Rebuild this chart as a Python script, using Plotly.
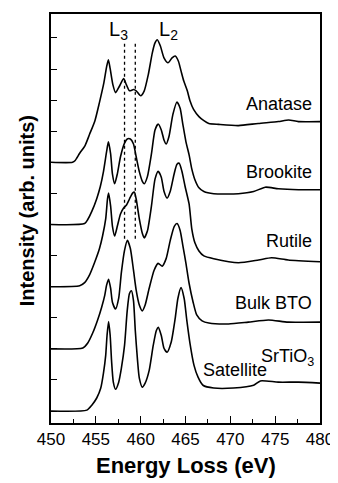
import plotly.graph_objects as go

# ---- data (energy in eV, intensity in arb. units relative to each spectrum's baseline) ----
anatase_E = [450.0, 452.4, 452.7, 453.2, 453.8, 454.3, 454.9, 455.4, 455.9, 456.2, 456.4, 456.6, 456.9,
             457.2, 457.6, 458.1, 458.4, 458.75, 459.2, 459.5, 460.0, 460.4, 460.85, 461.3, 461.6, 461.85,
             462.2, 462.6, 463.05, 463.5, 463.85, 464.2, 464.5, 464.8, 465.2, 465.5, 465.9, 466.5, 467.05,
             467.6, 468.7, 470.9, 473.1, 475.35, 476.5, 477.6, 480.0]
anatase_I = [0.0, 0.0, 0.06, 0.29, 0.54, 0.90, 1.34, 1.92, 2.56, 3.07, 3.30, 3.01, 2.50, 2.24, 2.43, 2.69,
             2.50, 2.30, 2.34, 2.30, 2.14, 2.30, 2.82, 3.52, 3.84, 3.94, 3.74, 3.36, 3.20, 3.36, 3.42, 3.26,
             2.94, 2.62, 2.30, 1.98, 1.70, 1.47, 1.34, 1.25, 1.22, 1.18, 1.25, 1.31, 1.36, 1.31, 1.31]

brookite_E = [450.0, 453.75, 454.1, 454.55, 455.1, 455.5, 455.85, 456.2, 456.4, 456.65, 456.85, 457.1, 457.4,
              457.75, 458.2, 458.5, 458.85, 459.2, 459.5, 459.85, 460.2, 460.4, 460.75, 461.2, 461.6, 461.95,
              462.3, 462.6, 462.85, 463.15, 463.6, 464.05, 464.4, 464.7, 465.05, 465.4, 465.7, 466.05, 466.5,
              467.05, 468.15, 470.9, 472.6, 473.9, 475.35, 477.6, 480.0]
brookite_I = [0.0, 0.03, 0.16, 0.42, 0.83, 1.22, 1.70, 2.34, 2.66, 2.27, 1.63, 1.31, 1.63, 2.18, 2.62, 2.75,
              2.75, 2.59, 2.18, 1.70, 1.38, 1.31, 1.54, 2.27, 3.04, 3.23, 3.04, 2.72, 2.59, 2.82, 3.55, 3.94,
              3.74, 3.23, 2.66, 2.24, 1.79, 1.44, 1.18, 1.06, 0.99, 0.99, 1.06, 1.20, 1.15, 1.12, 1.12]

rutile_E = [450.0, 453.2, 453.75, 454.3, 454.85, 455.4, 455.75, 456.1, 456.3, 456.42, 456.65, 456.85, 457.1,
            457.4, 457.75, 458.1, 458.4, 458.75, 459.1, 459.3, 459.5, 459.85, 460.2, 460.4, 460.75, 461.2,
            461.6, 461.95, 462.3, 462.6, 462.95, 463.3, 463.75, 464.05, 464.3, 464.6, 464.95, 465.4, 465.7,
            466.05, 466.5, 467.05, 468.15, 470.9, 473.15, 474.6, 476.45, 480.0]
rutile_I = [0.0, 0.03, 0.13, 0.38, 0.77, 1.22, 1.63, 2.18, 2.82, 3.01, 2.59, 1.95, 1.63, 1.95, 2.34, 2.53,
            2.62, 2.82, 3.01, 3.04, 2.82, 2.18, 1.70, 1.57, 1.79, 2.59, 3.46, 3.71, 3.52, 3.07, 2.85, 3.07,
            3.65, 3.94, 3.97, 3.71, 3.23, 2.66, 1.86, 1.41, 1.15, 0.99, 0.90, 0.77, 0.86, 0.93, 0.86, 0.80]

bto_E = [450.0, 453.55, 454.1, 454.65, 455.2, 455.65, 456.0, 456.2, 456.42, 456.65, 456.85, 457.2, 457.55,
         457.85, 458.2, 458.52, 458.85, 459.2, 459.5, 459.85, 460.18, 460.5, 460.95, 461.5, 461.95, 462.4,
         462.85, 463.3, 463.75, 464.06, 464.4, 464.7, 465.05, 465.4, 465.85, 466.25, 466.85, 467.6, 469.8,
         472.0, 474.25, 476.45, 480.0]
bto_I = [0.0, 0.03, 0.19, 0.51, 0.93, 1.34, 1.73, 2.05, 2.24, 1.95, 1.50, 1.28, 1.63, 2.46, 3.17, 3.49,
         3.23, 2.53, 1.89, 1.41, 1.22, 1.41, 1.95, 2.53, 2.75, 2.66, 2.91, 3.49, 3.94, 4.03, 3.81, 3.33,
         2.75, 2.11, 1.50, 1.09, 0.90, 0.83, 0.80, 0.86, 0.93, 0.86, 0.86]

sat_E = [450.0, 454.0, 454.55, 455.1, 455.55, 455.85, 456.1, 456.25, 456.42, 456.6, 456.75, 456.95, 457.2,
         457.55, 457.85, 458.2, 458.5, 458.75, 458.97, 459.2, 459.4, 459.65, 459.85, 460.18, 460.5, 460.95,
         461.4, 461.75, 461.96, 462.3, 462.6, 462.95, 463.4, 463.85, 464.15, 464.5, 464.85, 465.15, 465.5,
         465.95, 466.4, 466.95, 468.15, 470.35, 472.6, 473.35, 475.35, 477.6, 480.0]
sat_I = [0.0, 0.03, 0.19, 0.42, 0.74, 1.22, 1.79, 2.43, 2.88, 2.43, 1.63, 0.93, 0.70, 0.93, 1.38, 2.11,
         3.23, 3.78, 3.87, 3.55, 2.59, 1.63, 1.06, 0.77, 0.90, 1.31, 2.11, 2.59, 2.69, 2.43, 2.02, 1.89,
         2.21, 2.98, 3.62, 3.97, 3.62, 2.91, 2.18, 1.47, 1.09, 0.83, 0.74, 0.74, 0.83, 0.97, 0.93, 0.93, 0.90]

offsets = [8, 6, 4, 2, 0]
edge_lines_E = [458.2, 459.4]
edge_lines_y = [5.54, 11.85]
x_ticks = [450, 455, 460, 465, 470, 475, 480]
y_ticks = list(range(0, 13))

spectra = [(anatase_E, anatase_I), (brookite_E, brookite_I), (rutile_E, rutile_I),
           (bto_E, bto_I), (sat_E, sat_I)]

FONT = "Liberation Sans, Arial, sans-serif"

fig = go.Figure()
for (E, I), off in zip(spectra, offsets):
    fig.add_trace(go.Scatter(x=E, y=[v + off for v in I], mode="lines",
                             line=dict(color="black", width=1.6, shape="spline", smoothing=0.6),
                             showlegend=False, hoverinfo="skip"))

for e in edge_lines_E:
    fig.add_trace(go.Scatter(x=[e, e], y=edge_lines_y, mode="lines",
                             line=dict(color="black", width=1.3, dash="dot"),
                             showlegend=False, hoverinfo="skip"))

labels = [("Anatase", 479.35, 9.86), ("Brookite", 479.35, 7.68), ("Rutile", 479.35, 5.47),
          ("Bulk BTO", 479.35, 3.46)]
annotations = []
for txt, x, y in labels:
    annotations.append(dict(text=txt, x=x, y=y, xref="x", yref="y", xanchor="right", yanchor="middle",
                            showarrow=False, font=dict(family=FONT, size=18, color="black")))
annotations.append(dict(text="SrTiO<sub>3</sub>", x=479.6, y=1.72, xref="x", yref="y", xanchor="right",
                        yanchor="middle", showarrow=False, font=dict(family=FONT, size=18, color="black")))
annotations.append(dict(text="Satellite", x=474.3, y=1.31, xref="x", yref="y", xanchor="right",
                        yanchor="middle", showarrow=False, font=dict(family=FONT, size=18, color="black")))
annotations.append(dict(text="L<sub>3</sub>", x=457.5, y=12.25, xref="x", yref="y", xanchor="center",
                        yanchor="middle", showarrow=False, font=dict(family=FONT, size=20, color="black")))
annotations.append(dict(text="L<sub>2</sub>", x=463.1, y=12.25, xref="x", yref="y", xanchor="center",
                        yanchor="middle", showarrow=False, font=dict(family=FONT, size=20, color="black")))
annotations.append(dict(text="<b>Energy Loss (eV)</b>", x=0.502, y=-0.105, xref="paper", yref="paper",
                        xanchor="center", yanchor="middle", showarrow=False,
                        font=dict(family=FONT, size=22, color="black")))
annotations.append(dict(text="<b>Intensity (arb. units)</b>", x=-0.089, y=0.518, xref="paper", yref="paper",
                        xanchor="center", yanchor="middle", textangle=-90, showarrow=False,
                        font=dict(family=FONT, size=20, color="black")))

# The page body adds an 8 px margin, so the figure is 8 px smaller and its margins are trimmed by 8 px
fig.update_layout(
    width=330, height=475,
    margin=dict(l=43, r=16, t=4, b=60),
    paper_bgcolor="white", plot_bgcolor="white",
    annotations=annotations,
    font=dict(family=FONT, color="black"),
)
fig.update_xaxes(range=[450, 480], tickvals=x_ticks, ticks="inside", ticklen=7, tickwidth=1.3,
                 tickcolor="black", minor=dict(dtick=2.5, ticks="inside", ticklen=4, tickwidth=1.3,
                                               tickcolor="black"),
                 showline=True, linewidth=1.6, linecolor="black", mirror=True, showgrid=False,
                 zeroline=False, tickfont=dict(family=FONT, size=17, color="black"))
fig.update_yaxes(range=[-0.384, 12.77], tickvals=y_ticks, ticks="inside", ticklen=6, tickwidth=1.3,
                 tickcolor="black", showticklabels=False, showline=True, linewidth=1.6,
                 linecolor="black", mirror=True, showgrid=False, zeroline=False)

fig.write_html("out.html")
